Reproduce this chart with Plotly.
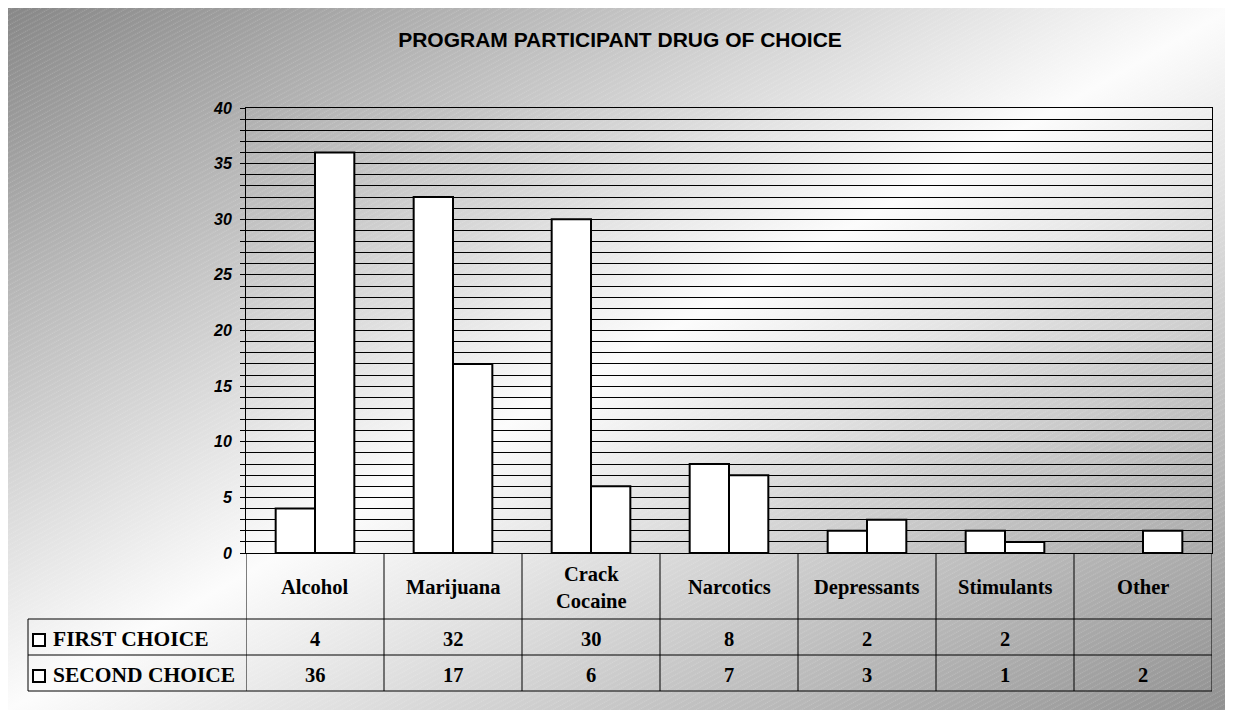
import base64
import plotly.graph_objects as go

# ---------------- data ----------------
categories = ["Alcohol", "Marijuana", "Crack Cocaine", "Narcotics",
              "Depressants", "Stimulants", "Other"]
header_labels = ["Alcohol", "Marijuana", "Crack<br>Cocaine", "Narcotics",
                 "Depressants", "Stimulants", "Other"]
series_names = ["FIRST CHOICE", "SECOND CHOICE"]
first_choice = [4, 32, 30, 8, 2, 2, None]
second_choice = [36, 17, 6, 7, 3, 1, 2]
ytick_vals = [0, 5, 10, 15, 20, 25, 30, 35, 40]
title_text = "PROGRAM PARTICIPANT DRUG OF CHOICE"

# ---------------- geometry (reference pixels) ----------------
OFF = 8                      # page body margin of the browser
W, H = 1233 - OFF, 710 - OFF  # figure size
plot_left, plot_right = 246, 1212
plot_top, plot_bottom = 108, 553
row_lines = [619, 655, 691]
legend_left = 28


def px(p):
    return (p - OFF) / W


def py(p):
    return 1 - (p - OFF) / H


# ---------------- background (gradient + diagonal hatch) ----------------
svg = f"""<svg xmlns='http://www.w3.org/2000/svg' width='{W}' height='{H}' viewBox='0 0 {W} {H}' preserveAspectRatio='none'>
<defs>
<linearGradient id='g' x1='0' y1='0' x2='1' y2='1'>
<stop offset='0' stop-color='#878787'/>
<stop offset='0.5' stop-color='#fcfcfc'/>
<stop offset='1' stop-color='#909090'/>
</linearGradient>
<pattern id='p' width='8' height='4.5' patternUnits='userSpaceOnUse' patternTransform='rotate(-28)'>
<line x1='0' y1='2' x2='8' y2='2' stroke='#ffffff' stroke-opacity='0.28' stroke-width='0.8' stroke-dasharray='1.2,0.8'/>
</pattern>
</defs>
<rect x='0' y='0' width='100%' height='100%' fill='url(#g)'/>
<rect x='0' y='0' width='100%' height='100%' fill='url(#p)'/>
</svg>"""
bg_src = "data:image/svg+xml;base64," + base64.b64encode(svg.encode()).decode()

fig = go.Figure()
bar_style = dict(color="white", line=dict(color="black", width=2))
fig.add_bar(x=categories, y=first_choice, name=series_names[0], marker=bar_style)
fig.add_bar(x=categories, y=second_choice, name=series_names[1], marker=bar_style)

serif = dict(family="Liberation Serif", size=20.5, color="black", weight="bold")

shapes = []
for yl in row_lines:
    shapes.append(dict(type="line", xref="paper", yref="paper",
                       x0=px(legend_left), x1=px(plot_right), y0=py(yl), y1=py(yl),
                       line=dict(color="black", width=1)))
shapes.append(dict(type="line", xref="paper", yref="paper",
                   x0=px(legend_left), x1=px(legend_left),
                   y0=py(row_lines[0]), y1=py(row_lines[-1]),
                   line=dict(color="black", width=1)))
for i in range(len(categories) + 1):
    shapes.append(dict(type="line", xref="x", yref="paper",
                       x0=i - 0.5, x1=i - 0.5, y0=py(plot_bottom), y1=py(row_lines[-1]),
                       line=dict(color="black", width=1)))

annotations = []
for i, lab in enumerate(header_labels):
    annotations.append(dict(x=i, y=py((plot_bottom + row_lines[0]) / 2 + 1),
                            xref="x", yref="paper", text=lab, showarrow=False,
                            font=serif, xanchor="center", yanchor="middle"))
row_centers = [(row_lines[0] + row_lines[1]) / 2, (row_lines[1] + row_lines[2]) / 2]
for r, (name, vals) in enumerate(zip(series_names, [first_choice, second_choice])):
    yc = row_centers[r] + 2
    for i, v in enumerate(vals):
        if v is None:
            continue
        annotations.append(dict(x=i, y=py(yc), xref="x", yref="paper", text=str(v),
                                showarrow=False, font=serif,
                                xanchor="center", yanchor="middle"))
    annotations.append(dict(x=px(51), y=py(yc), xref="paper", yref="paper", text=name,
                            showarrow=False, font=dict(serif, size=21.5),
                            xanchor="left", yanchor="middle"))
    kc = row_centers[r] + 3
    shapes.append(dict(type="rect", xref="paper", yref="paper",
                       x0=px(33), x1=px(45), y0=py(kc - 6), y1=py(kc + 6),
                       fillcolor="white", line=dict(color="black", width=2)))

fig.update_layout(
    width=W, height=H,
    margin=dict(l=0, r=0, t=0, b=0, pad=0),
    paper_bgcolor="white",
    plot_bgcolor="rgba(0,0,0,0)",
    barmode="group", bargap=0.43, bargroupgap=0,
    showlegend=False,
    title=dict(text=title_text, x=(620 - OFF) / W, xanchor="center",
               y=py(40), yanchor="middle", yref="container",
               font=dict(family="Liberation Sans", size=21, color="black", weight="bold")),
    images=[dict(source=bg_src, xref="paper", yref="paper",
                 x=0, y=1, sizex=1, sizey=1,
                 xanchor="left", yanchor="top", sizing="stretch", layer="below")],
    shapes=shapes,
    annotations=annotations,
    xaxis=dict(domain=[px(plot_left), px(plot_right)], range=[-0.5, 6.5],
               showticklabels=False, ticks="", showgrid=False, zeroline=False,
               showline=True, linecolor="black", linewidth=1, mirror=True,
               automargin=False),
    yaxis=dict(domain=[py(plot_bottom), py(plot_top)], range=[0, 40],
               tickmode="array", tickvals=ytick_vals,
               ticks="outside", ticklen=5, tickcolor="black", tickwidth=1,
               ticklabelstandoff=5,
               showgrid=True, gridcolor="black", gridwidth=1,
               minor=dict(tickmode="linear", tick0=0, dtick=1, showgrid=True,
                          gridcolor="black", gridwidth=1, ticks="outside",
                          ticklen=5, tickcolor="black"),
               showline=True, linecolor="black", linewidth=1, mirror=True,
               zeroline=False, automargin=False,
               tickfont=dict(family="Liberation Sans", size=16, color="black",
                             weight="bold", style="italic")),
)

fig.write_html("out.html")
